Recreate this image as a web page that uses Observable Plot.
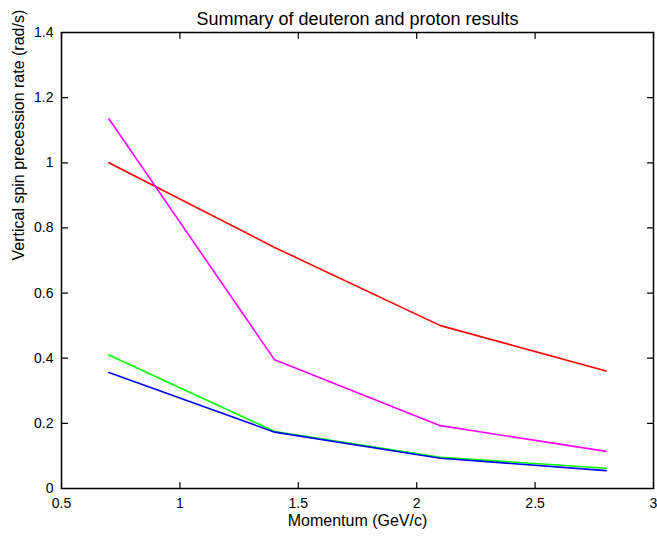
<!DOCTYPE html>
<html>
<head>
<meta charset="utf-8">
<script src="https://cdn.jsdelivr.net/npm/d3@7"></script>
<script src="https://cdn.jsdelivr.net/npm/@observablehq/plot@0.6"></script>
<style>
  html, body { margin: 0; padding: 0; background: #fff; }
  #chart svg { font-family: "Liberation Sans", Arial, Helvetica, sans-serif; }
</style>
</head>
<body>
<div id="chart"></div>
<script>
const title = "Summary of deuteron and proton results";
const xLabel = "Momentum (GeV/c)";
const yLabel = "Vertical spin precession rate (rad/s)";
const momentum = [0.7, 1.4, 2.1, 2.8];
const seriesNames = ["series 1", "series 2", "series 3", "series 4"];
const seriesColors = ["#ff0000", "#ff00ff", "#00ff00", "#0000ff"];
const series1Values = [1.0, 0.74, 0.50, 0.361];
const series2Values = [1.135, 0.395, 0.193, 0.114];
const series3Values = [0.410, 0.175, 0.096, 0.062];
const series4Values = [0.356, 0.173, 0.093, 0.055];
const xTicks = [0.5, 1, 1.5, 2, 2.5, 3];
const yTicks = [0, 0.2, 0.4, 0.6, 0.8, 1, 1.2, 1.4];

const allValues = [series1Values, series2Values, series3Values, series4Values];
const data = seriesNames.flatMap((s, i) =>
  momentum.map((m, j) => ({series: s, x: m, y: allValues[i][j]}))
);
const fmt = d => String(+d.toFixed(1));

const W = 657, H = 538, mL = 61, mR = 4, mT = 32, mB = 50;
const frameW = W - mL - mR, frameH = H - mT - mB, tickPx = 6;
const xDom = [0.5, 3], yDom = [0, 1.4];
// inward tick length converted to data units from the scale extents
const tx = tickPx / frameW * (xDom[1] - xDom[0]);
const ty = tickPx / frameH * (yDom[1] - yDom[0]);

// tick segments as two-point polylines (same mark type as the data lines)
const tickSegs = [
  ...xTicks.flatMap((t, i) => [
    {k: "b" + i, x: t, y: yDom[0]}, {k: "b" + i, x: t, y: yDom[0] + ty},
    {k: "t" + i, x: t, y: yDom[1]}, {k: "t" + i, x: t, y: yDom[1] - ty}
  ]),
  ...yTicks.flatMap((t, i) => [
    {k: "l" + i, x: xDom[0], y: t}, {k: "l" + i, x: xDom[0] + tx, y: t},
    {k: "r" + i, x: xDom[1], y: t}, {k: "r" + i, x: xDom[1] - tx, y: t}
  ])
];

const chart = Plot.plot({
  width: W,
  height: H,
  marginLeft: mL,
  marginRight: mR,
  marginTop: mT,
  marginBottom: mB,
  style: {fontSize: "14px", fontFamily: "'Liberation Sans', Arial, Helvetica, sans-serif", background: "#fff"},
  x: {domain: xDom, ticks: xTicks},
  y: {domain: yDom, ticks: yTicks},
  color: {domain: seriesNames, range: seriesColors},
  marks: [
    Plot.frame({stroke: "#000", fill: "none", strokeWidth: 1.5}),
    Plot.axisX(xTicks, {anchor: "bottom", tickSize: 0, tickPadding: 10, tickFormat: fmt, label: null, fill: "#000"}),
    Plot.axisY(yTicks, {anchor: "left", tickSize: 0, tickPadding: 8, tickFormat: fmt, label: null, fill: "#000"}),
    Plot.line(data, {x: "x", y: "y", z: "series", stroke: "series", strokeWidth: 1.6}),
    Plot.line(tickSegs, {x: "x", y: "y", z: "k", stroke: "#000", strokeWidth: 1.2}),
    Plot.text([title], {frameAnchor: "top", dy: -20, fontSize: 18, fill: "#000"}),
    Plot.text([xLabel], {frameAnchor: "bottom", dy: 37, fontSize: 16, fill: "#000"}),
    Plot.text([yLabel], {frameAnchor: "left", dx: -43, rotate: -90, fontSize: 16, fill: "#000"})
  ]
});
document.getElementById("chart").appendChild(chart);
</script>
</body>
</html>
